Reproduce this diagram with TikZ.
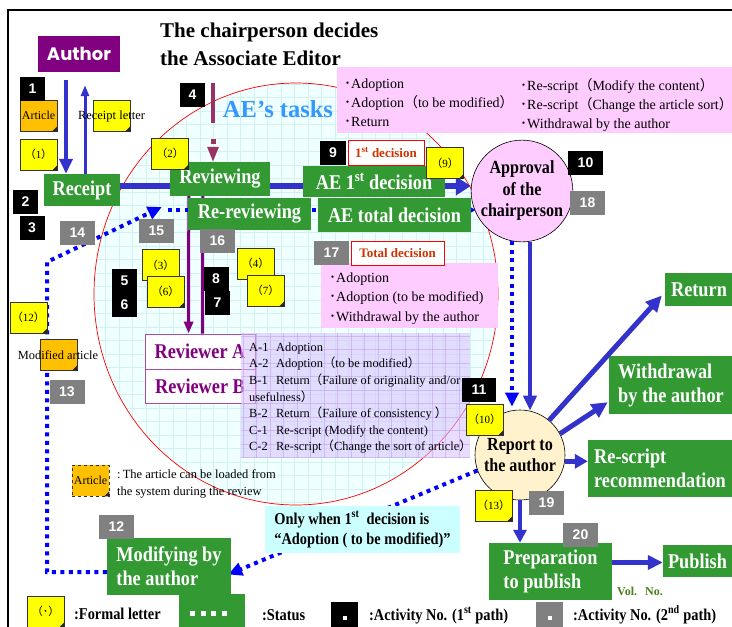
\documentclass[tikz,border=0pt]{standalone}
\usepackage{fontspec}
\setmainfont{Liberation Serif}
\newfontfamily\boxfont[FakeStretch=0.87]{Liberation Serif}
\newfontfamily\badgefont{Liberation Sans}
\newfontfamily\authorfont{Poppins}
\newfontfamily\cjk{Noto Sans CJK JP}
\usetikzlibrary{arrows.meta,calc}

\definecolor{boxgreen}{HTML}{339933}
\definecolor{authpurple}{HTML}{800080}
\definecolor{arrowblue}{HTML}{3333CC}
\definecolor{dotblue}{HTML}{0000FF}
\definecolor{pinkfill}{HTML}{FFCCFF}
\definecolor{noteyellow}{HTML}{FFFF00}
\definecolor{noteorange}{HTML}{FFC000}
\definecolor{badgegray}{HTML}{808080}
\definecolor{decred}{HTML}{CC3300}
\definecolor{cyanbox}{HTML}{CCFFFF}
\definecolor{ringfill}{HTML}{F0FFFF}
\definecolor{ringgrid}{HTML}{D2F2F2}
\definecolor{lavender}{HTML}{D8C2FF}
\definecolor{lavgrid}{HTML}{C2A0F0}
\definecolor{cream}{HTML}{FFF2CC}
\definecolor{taskblue}{HTML}{3399FF}
\definecolor{mauve}{HTML}{993366}
\definecolor{volgreen}{HTML}{4D7F1A}

\pgfdeclarelayer{ring}
\pgfdeclarelayer{behind}
\pgfsetlayers{ring,behind,main}

\newcommand{\fsz}[2]{\fontsize{#1}{#2}\selectfont}
\newcommand{\jlp}{{\cjk （}}
\newcommand{\jrp}{{\cjk ）}}
\newcommand{\jdot}{{\cjk ･}}

% sticky note with a folded corner
\newcommand{\stickynote}[4][yellownote]{%
  \node[#1] (#2) at (#3) {#4};
  \fill[black!85] (#2.south east) -- ++(-5,0) -- ++(5,-5) -- cycle;
}

\begin{document}
\begin{tikzpicture}[x=1pt, y=-1pt,
  greenbox/.style={fill=boxgreen, text=white, inner sep=0pt, align=left,
    font=\boxfont\bfseries\fsz{21}{24}},
  badge/.style={fill=black, text=white, inner sep=0pt, minimum width=25,
    minimum height=24, font=\badgefont\bfseries\fsz{14}{14}},
  graybadge/.style={badge, fill=badgegray, minimum width=35},
  yellownote/.style={fill=noteyellow, draw=black!80, line width=0.6pt,
    minimum width=37, minimum height=31, inner sep=0pt, font=\fsz{11}{12}},
  orangenote/.style={yellownote, fill=noteorange, font=\fsz{12}{12}},
  pinkbox/.style={fill=pinkfill, inner sep=0pt},
  tagbox/.style={draw=red, fill=white, line width=0.7pt, inner sep=0pt,
    text=decred, font=\bfseries\fsz{13}{13}},
  reviewerbox/.style={draw=authpurple!70, fill=white, line width=0.8pt,
    inner sep=0pt, minimum width=110, text=authpurple,
    font=\boxfont\bfseries\fsz{21}{21}},
  textblock/.style={anchor=north west, align=left, inner sep=0pt},
  legendtext/.style={anchor=base west, inner sep=0pt,
    font=\boxfont\bfseries\fsz{16.5}{16.5}},
  mainarrow/.style={draw=arrowblue, line width=6pt, -{Triangle[width=18pt,length=15pt]}},
  thickarrow/.style={draw=arrowblue, line width=4.5pt, -{Triangle[width=13pt,length=15pt]}},
  thinarrow/.style={draw=arrowblue, line width=3pt, -{Triangle[width=8pt,length=11pt]}},
  diagarrow/.style={draw=arrowblue, line width=5pt, -{Triangle[width=15pt,length=16pt]}},
  dotline/.style={draw=dotblue, line width=4pt, dash pattern=on 4pt off 4.5pt},
  dotarrow/.style={dotline, -{Triangle[width=13pt,length=14pt]}},
  purplearrow/.style={draw=authpurple, line width=3pt, -{Triangle[width=9pt,length=12pt]}},
]
\useasboundingbox (0,0) rectangle (732,627);

% page and AE's working area
\begin{pgfonlayer}{ring}
\fill[white] (0,0) rectangle (732,627);
\draw[line width=1.4pt] (8,640) -- (8,10) -- (745,10);
\begin{scope}
  \clip (296,294) ellipse [x radius=202, y radius=211];
  \fill[ringfill] (90,80) rectangle (500,510);
  \foreach \gx in {92,105.5,...,500} \draw[ringgrid, line width=0.5pt] (\gx,80) -- (\gx,510);
  \foreach \gy in {84,97.5,...,510} \draw[ringgrid, line width=0.5pt] (90,\gy) -- (500,\gy);
\end{scope}
\draw[red, line width=0.7pt] (296,294) ellipse [x radius=202, y radius=211];
\end{pgfonlayer}

% title
\node[anchor=base west, inner sep=0pt, font=\bfseries\fsz{21}{21}] (title1) at (160,37) {The chairperson decides};
\node[anchor=base west, inner sep=0pt, font=\bfseries\fsz{21}{21}] (title2) at (160,65) {the Associate Editor};

% decision lists
\node[pinkbox, minimum width=396, minimum height=66] (choices) at (535,100) {};
\node[textblock, font=\fsz{14}{19}] (choicesL) at (344,78.5)
  {\jdot Adoption\\\jdot Adoption\jlp to be modified\jrp\\\jdot Return};
\node[textblock, font=\fsz{14}{19}] (choicesR) at (520,78.5)
  {\jdot Re-script\jlp Modify the content\jrp\\\jdot Re-script\jlp Change the article sort\jrp\\\jdot Withdrawal by the author};

\node[pinkbox, minimum width=177, minimum height=65] (totals) at (409.5,295.5) {};
\node[textblock, font=\fsz{14}{19.5}] (totalsT) at (329,272.5)
  {\jdot Adoption\\\jdot Adoption (to be modified)\\\jdot Withdrawal by the author};

% author and AE steps
\node[fill=authpurple, text=white, inner sep=0pt, minimum width=82, minimum height=36,
  font=\authorfont\bfseries\fsz{18}{18}] (author) at (79,54) {Author};
\node[greenbox, minimum width=76, minimum height=32] (receipt) at (82,190) {Receipt};
\node[greenbox, minimum width=100, minimum height=34] (reviewing) at (220,179) {Reviewing};
\node[greenbox, minimum width=123, minimum height=32] (rereview) at (249.5,214) {Re-reviewing};
\node[greenbox, minimum width=153, minimum height=34] (aetotal) at (394.5,215) {AE total decision};
\node[greenbox, minimum width=142, minimum height=31] (ae1) at (374,181.5) {AE 1\textsuperscript{st} decision};
\node[circle, draw=black, line width=0.6pt, fill=pinkfill, minimum size=92, inner sep=0pt,
  align=center, font=\boxfont\bfseries\fsz{18.5}{21.5}] (approval) at (522,191)
  {Approval\\of the\\chairperson};
\node[reviewerbox, minimum height=35] (revA) at (200,351.5) {Reviewer A};
\node[reviewerbox, minimum height=34] (revB) at (200,386) {Reviewer B};
\node[greenbox, minimum width=124, minimum height=57] (modify) at (169,566.5) {Modifying by\\the author};

% report to the author and outcomes
\node[circle, draw=black, line width=0.6pt, fill=cream, minimum size=90, inner sep=0pt,
  align=center, font=\boxfont\bfseries\fsz{18.5}{21}] (report) at (520,455)
  {Report to\\the author};
\node[greenbox, minimum width=68, minimum height=33] (return) at (699,289.5) {Return};
\node[greenbox, minimum width=124, minimum height=58] (withdrawal) at (671,385) {Withdrawal\\by the author};
\node[greenbox, minimum width=144, minimum height=57] (rescript) at (660,468.5) {Re-script\\recommendation};
\node[greenbox, minimum width=123, minimum height=57] (prep) at (550.5,571.5) {Preparation\\to publish};
\node[greenbox, minimum width=69, minimum height=32] (publish) at (697.5,561) {Publish};
\node[fill=cyanbox, minimum width=195, minimum height=47, inner sep=0pt, align=left,
  font=\boxfont\bfseries\fsz{16.5}{20}] (onlywhen) at (362.5,529.5)
  {Only when 1\textsuperscript{st}\ \ decision is\\“Adoption ( to be modified)”};

% connectors that run beneath the boxes
\begin{pgfonlayer}{behind}
\coordinate (mainstart) at ($(receipt.east)+(0,-4)$);
\draw[mainarrow] (mainstart) -- (mainstart -| approval.west);
\draw[purplearrow] ($(reviewing.south west)+(19,0)$) -- ($(revA.north west)+(44,0)$);
\draw[authpurple, line width=3pt] ($(reviewing.south west)+(33,0)$) -- ($(revA.north west)+(58,0)$);
\draw[dotarrow] ($(modify.west)+(0,5.5)$) -- (47,572) -- (47,262) -- ($(rereview.west)+(-26,-7)$);
\coordinate (secondpath) at ($(rereview.west)+(-20,-4)$);
\draw[dotline, -{Triangle[width=10pt,length=10pt]}] (secondpath) -- ($(secondpath -| approval.west)+(5,0)$);
\draw[dotarrow] (report.200) -- ($(modify.east)+(-3,8)$);
\end{pgfonlayer}

% AE tasks
\node[inner sep=0pt, text=taskblue, font=\bfseries\fsz{24.5}{24.5}] (tasks) at (278,109) {AE’s tasks};
\coordinate (barTop) at (213,83);
\draw[mauve, line width=3.5pt] (barTop) -- ++(0,40);
\fill[mauve] ($(barTop)+(-2.5,56)$) rectangle ++(5,5);
\draw[mauve, line width=3pt, -{Triangle[width=11pt,length=15pt]}] ($(barTop)+(0,64)$) -- (reviewing.north -| barTop);

% decision tags
\node[tagbox, minimum width=76, minimum height=25] (dec1) at (386,152.5) {1\textsuperscript{st} decision};
\node[tagbox, minimum width=93, minimum height=24] (dectotal) at (397.5,253) {Total decision};

% reviewer outcomes
\begin{scope}
  \clip (241,333) rectangle (470,458);
  \fill[lavender, opacity=0.55] (241,333) rectangle (470,458);
  \foreach \gx in {243,256.5,...,470} \draw[lavgrid, opacity=0.6, line width=0.5pt] (\gx,333) -- (\gx,458);
  \foreach \gy in {336,349.5,...,458} \draw[lavgrid, opacity=0.6, line width=0.5pt] (241,\gy) -- (470,\gy);
\end{scope}
\node[textblock, font=\fsz{12.4}{16.6}] (codes) at (249,342.5)
  {\makebox[27pt][l]{A-1}Adoption\\
   \makebox[27pt][l]{A-2}Adoption\jlp to be modified\jrp\\
   \makebox[27pt][l]{B-1}Return\jlp Failure of originality and/or\\
   usefulness\jrp\\
   \makebox[27pt][l]{B-2}Return\jlp Failure of consistency \jrp\\
   \makebox[27pt][l]{C-1}Re-script (Modify the content)\\
   \makebox[27pt][l]{C-2}Re-script\jlp Change the sort of article\jrp};

% author side connectors
\draw[thickarrow] ($(author.south)+(-13,8)$) -- ($(receipt.north)+(-16,0)$);
\draw[thinarrow] ($(receipt.north)+(3,0)$) -- ($(author.south)+(6,13)$);

% chairperson, report and outcomes connectors
\draw[thickarrow, line width=4pt] ($(approval.south)+(8,0)$) -- ($(report.north)+(10,1)$);
\draw[dotarrow] ($(approval.south)+(-10,-1)$) -- ($(report.north)+(-8,-3)$);
\draw[diagarrow] (report.50) -- ($(return.west)+(-3,6)$);
\draw[diagarrow] (report.28) -- ($(withdrawal.south west)+(-1,-12)$);
\draw[diagarrow, -{Triangle[width=14pt,length=13pt]}] (report.-8) -- (report.-8 -| rescript.west);
\draw[thickarrow, -{Triangle[width=13pt,length=13pt]}] (report.south) -- (report.south |- prep.north);
\coordinate (pubstart) at ($(prep.east)+(0,-9)$);
\draw[diagarrow, -{Triangle[width=14pt,length=15pt]}] (pubstart) -- (pubstart -| publish.west);
\node[anchor=base west, inner sep=0pt, text=volgreen, font=\bfseries\fsz{12}{12}] (volno) at (617,595) {Vol.\hspace{8pt}No.};

% letters and articles
\stickynote[orangenote]{article}{38.5,115.5}{Article}
\stickynote{n1}{38.5,154.5}{\jlp 1\jrp}
\stickynote{rletter}{111.5,115.5}{}
\node[inner sep=0pt, font=\fsz{12.5}{12.5}] (rlettertext) at (111.5,116) {Receipt letter};
\stickynote{n2}{170,153.5}{\jlp 2\jrp}
\stickynote{n9}{445,163}{\jlp 9\jrp}
\stickynote{n3}{160.5,265}{\jlp 3\jrp}
\stickynote{n6}{165.5,291.5}{\jlp 6\jrp}
\stickynote{n4}{255.5,263.5}{\jlp 4\jrp}
\stickynote{n7}{265.5,290.5}{\jlp 7\jrp}
\stickynote{n12}{28.5,317.5}{\jlp 12\jrp}
\stickynote[orangenote]{modart}{58.5,354.5}{}
\node[inner sep=0pt, font=\fsz{12.4}{12.4}] (modarttext) at (58,355) {Modified article};
\stickynote{n10}{484.5,419.5}{\jlp 10\jrp}
\stickynote{n13}{493.5,505.5}{\jlp 13\jrp}

% activity numbers, first path
\node[badge] (b1) at (32.5,88.5) {1};
\node[badge] (b2) at (25.5,201.5) {2};
\node[badge] (b3) at (32,227.5) {3};
\node[badge] (b4) at (192.5,94.5) {4};
\node[badge] (b5) at (124.5,280.5) {5};
\node[badge] (b6) at (124.5,305) {6};
\node[badge] (b8) at (216,278.5) {8};
\node[badge] (b7) at (217.5,303) {7};
\node[badge, minimum width=26] (b9) at (333,152.5) {9};
\node[badge, minimum width=35] (b10) at (585.5,162.5) {10};
\node[badge, minimum width=34] (b11) at (479,389.5) {11};

% activity numbers, second path
\node[graybadge] (b12) at (116.5,527) {12};
\node[graybadge] (b13) at (67,392) {13};
\node[graybadge] (b14) at (77.5,233) {14};
\node[graybadge] (b15) at (156.5,230.5) {15};
\node[graybadge] (b16) at (217.5,241) {16};
\node[graybadge] (b17) at (331.5,253) {17};
\node[graybadge] (b18) at (587.5,203) {18};
\node[graybadge] (b19) at (546.5,503) {19};
\node[graybadge] (b20) at (580.5,535) {20};

% legend
\stickynote[orangenote, dashed]{legart}{90.5,480.5}{Article}
\node[textblock, font=\fsz{12.5}{17}] (legarttext) at (117,469.5)
  {:\,The article can be loaded from\\the system during the review};
\stickynote{legletter}{45.5,611.5}{\jlp\jdot\jrp}
\node[legendtext] (legletterT) at (74,619) {:Formal letter};
\node[fill=boxgreen, minimum width=66, minimum height=36, inner sep=0pt] (legstatus) at (212,612) {};
\foreach \i in {0,...,3} \fill[white] ($(legstatus.west)+(11+\i*10.7,-1)$) rectangle ++(5,5);
\node[legendtext] (legstatusT) at (262,620) {:Status};
\node[badge, minimum width=27, minimum height=25] (legblack) at (344.5,614.5) {};
\fill[white] ($(legblack)+(-2,1)$) rectangle ++(4,4);
\node[legendtext] (legblackT) at (369,620) {:Activity No. (1\textsuperscript{st} path)};
\node[graybadge, minimum width=27, minimum height=25] (leggray) at (549.5,614.5) {};
\fill[white] ($(leggray)+(-2,1)$) rectangle ++(4,4);
\node[legendtext] (leggrayT) at (573,620) {:Activity No. (2\textsuperscript{nd} path)};
\end{tikzpicture}
\end{document}
